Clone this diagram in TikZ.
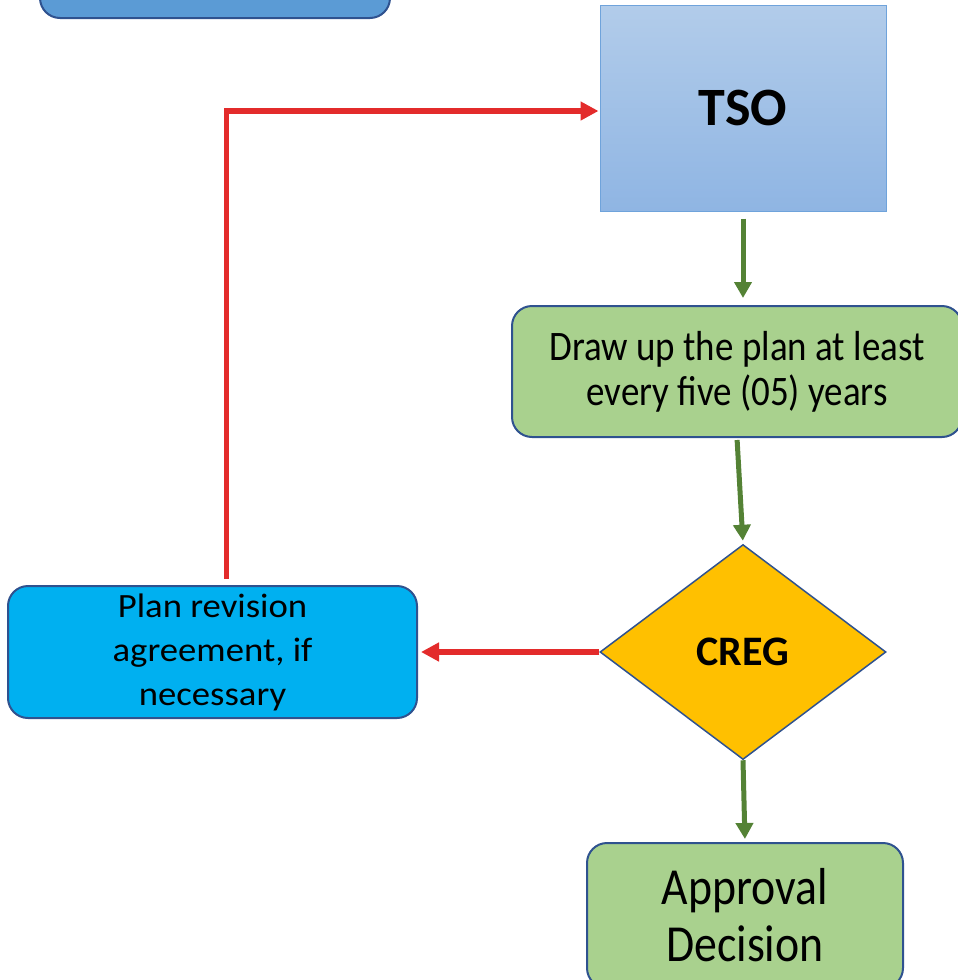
\documentclass[tikz,border=0pt]{standalone}
\usepackage{fontspec}
\setmainfont{Carlito}[FakeStretch=0.88]
\newfontfamily\widefont{Carlito}
\newfontfamily\revfont{Carlito}[FakeStretch=1.08]
\usetikzlibrary{shapes.geometric,arrows.meta}
\definecolor{topblue}{HTML}{5B9BD5}
\definecolor{boxline}{HTML}{2F528F}
\definecolor{tsotop}{HTML}{B2CCEA}
\definecolor{tsobot}{HTML}{8FB5E3}
\definecolor{tsoline}{HTML}{6FA3DB}
\definecolor{plangreen}{HTML}{A9D18E}
\definecolor{revblue}{HTML}{00B0F0}
\definecolor{cregyellow}{HTML}{FFC000}
\definecolor{arrowgreen}{HTML}{548235}
\definecolor{arrowred}{HTML}{E32B2B}
\begin{document}
\begin{tikzpicture}[x=1pt,y=1pt]
	\tikzstyle{box} = [rounded corners=20pt,draw=boxline,line width=2pt,align=center,inner sep=0pt]
	\tikzstyle{gline} = [-{Triangle[length=16pt,width=17pt]},line width=5pt,draw=arrowgreen]
	\tikzstyle{rline} = [-{Triangle[length=18pt,width=18pt]},line width=5.5pt,draw=arrowred]
		
		\useasboundingbox (0,0) rectangle (958,-980);
		\clip (0,0) rectangle (958,-980);
		
		\node[box,fill=topblue,minimum width=350,minimum height=100](top) at (215,32){};
		\node[draw=tsoline,line width=1pt,top color=tsotop,bottom color=tsobot,minimum width=286,minimum height=206,font=\widefont\bfseries\fontsize{54}{60}\selectfont](tso) at (743,-108){TSO};
		\node[box,fill=plangreen,minimum width=450,minimum height=131,font=\fontsize{42}{45}\selectfont](plan) at (737,-371.5){Draw up the plan at least\\every five (05) years};
		\node[diamond,aspect=1.33,draw=boxline,line width=1.5pt,fill=cregyellow,minimum width=286,minimum height=215,inner sep=0pt,font=\widefont\bfseries\fontsize{42}{45}\selectfont](creg) at (743,-652){CREG};
		\node[box,fill=revblue,minimum width=409,minimum height=132,font=\revfont\fontsize{34}{44}\selectfont](rev) at (212.5,-652){Plan revision\\agreement, if\\necessary};
		\node[box,fill=plangreen,minimum width=316,minimum height=145,font=\fontsize{52}{57}\selectfont](dec) at (745,-915.5){Approval\\Decision};
		
		\draw[gline,shorten <=7pt,shorten >=7pt](tso.south) -- (tso.south |- plan.north);
		\draw[gline,shorten <=2pt,shorten >=3pt](plan.south) -- (creg.north);
		\draw[gline,shorten >=3pt](creg.south) -- (dec.north);
		\draw[rline,shorten >=3pt](creg.west) -- (rev.east);
		\draw[rline,shorten <=6pt,shorten >=1pt]([xshift=14pt]rev.north) |- ([yshift=-3pt]tso.west);
\end{tikzpicture}
\end{document}
